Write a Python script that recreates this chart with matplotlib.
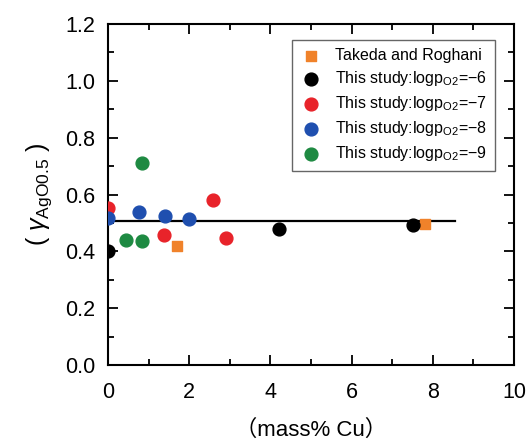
import matplotlib
matplotlib.use("Agg")
import matplotlib.pyplot as plt
from matplotlib.ticker import MultipleLocator

plt.rcParams['font.family'] = ['Liberation Sans', 'Noto Sans CJK JP', 'DejaVu Sans']
plt.rcParams['mathtext.fontset'] = 'custom'
plt.rcParams['mathtext.rm'] = 'Liberation Sans'
plt.rcParams['mathtext.it'] = 'Liberation Sans:italic'

# Data
takeda_x = [1.70, 7.81]
takeda_y = [0.42, 0.496]
p6_x = [0.0, 4.21, 7.50]
p6_y = [0.402, 0.480, 0.493]
p7_x = [0.0, 1.39, 2.59, 2.90]
p7_y = [0.552, 0.458, 0.579, 0.446]
p8_x = [0.0, 0.77, 1.41, 1.99]
p8_y = [0.516, 0.537, 0.525, 0.514]
p9_x = [0.45, 0.83, 0.83]
p9_y = [0.440, 0.438, 0.712]
avg_x = [0.0, 8.55]
avg_y = [0.508, 0.508]

fig = plt.figure(figsize=(5.28, 4.41), dpi=100)
ax = fig.add_axes([0.2045, 0.1723, 0.769, 0.7733])

ax.plot(avg_x, avg_y, color='black', lw=1.6, zorder=2)

ms = 85
ax.scatter(takeda_x, takeda_y, marker='s', s=60, color='#F0822A', label='Takeda and Roghani', zorder=3)
ax.scatter(p6_x, p6_y, s=ms, color='black', label='This study:logp$_{\\mathrm{O2}}$=\u22126', zorder=3)
ax.scatter(p7_x, p7_y, s=ms, color='#E8232A', label='This study:logp$_{\\mathrm{O2}}$=\u22127', zorder=3)
ax.scatter(p8_x, p8_y, s=ms, color='#1F4FAF', label='This study:logp$_{\\mathrm{O2}}$=\u22128', zorder=3)
ax.scatter(p9_x, p9_y, s=ms, color='#1E8A42', label='This study:logp$_{\\mathrm{O2}}$=\u22129', zorder=3)

ax.set_xlim(0, 10)
ax.set_ylim(0, 1.2)
ax.xaxis.set_major_locator(MultipleLocator(2))
ax.xaxis.set_minor_locator(MultipleLocator(1))
ax.yaxis.set_major_locator(MultipleLocator(0.2))
ax.yaxis.set_minor_locator(MultipleLocator(0.1))
ax.xaxis.set_major_formatter(plt.FuncFormatter(lambda v, p: f'{v:.0f}'))
ax.yaxis.set_major_formatter(plt.FuncFormatter(lambda v, p: f'{v:.1f}'))
ax.tick_params(which='both', direction='in', top=True, right=True, width=1.3, labelsize=15.5)
ax.tick_params(which='major', length=7)
ax.tick_params(which='minor', length=4)
ax.tick_params(axis='x', pad=12)
ax.tick_params(axis='y', pad=9)
for s in ax.spines.values():
    s.set_linewidth(1.5)

ax.set_xlabel('\uff08mass% Cu\uff09', fontsize=16, labelpad=12)
ax.set_ylabel('( $\\gamma_{\\mathrm{AgO0.5}}$ )', fontsize=18, labelpad=8)

leg = ax.legend(loc='upper right', bbox_to_anchor=(0.953, 0.953), borderaxespad=0,
                fontsize=11.5, frameon=True, fancybox=False, edgecolor='#666666',
                framealpha=1, handletextpad=0.8, borderpad=0.5, labelspacing=0.38,
                handlelength=1.4)
leg.get_frame().set_linewidth(1.0)

fig.savefig('out.png', dpi=100)
